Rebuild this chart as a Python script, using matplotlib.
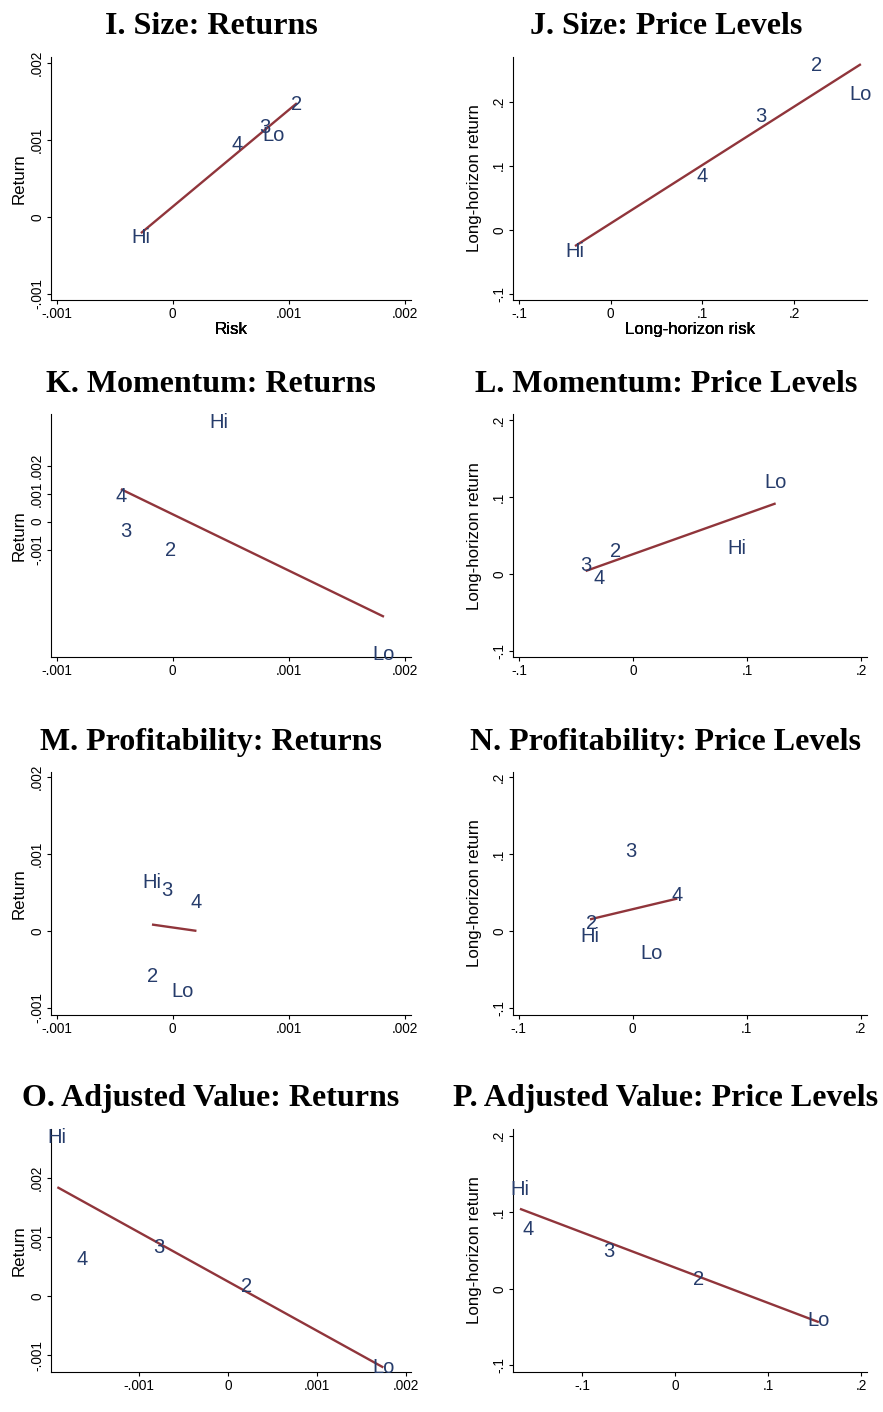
import numpy as np
import matplotlib
matplotlib.use("Agg")
import matplotlib.pyplot as plt
from matplotlib.ticker import FixedLocator, FuncFormatter

# Portfolio groups (quintiles), in the same order for every series
groups = ["Lo", "2", "3", "4", "Hi"]

# Size
size_ret_risk = [0.000867, 0.00107, 0.00079, 0.000554, -0.000273]
size_ret_ret = [0.00108, 0.00148, 0.00118, 0.000961, -0.00025]
size_lvl_risk = [0.273, 0.2249, 0.1638, 0.0993, -0.039]
size_lvl_ret = [0.2146, 0.259, 0.1797, 0.0859, -0.031]

# Momentum
mom_ret_risk = [0.00182, -0.0000172, -0.000403, -0.000446, 0.000402]
mom_ret_ret = [-0.00466, -0.000972, -0.000295, 0.00095, 0.003584]
mom_lvl_risk = [0.1249, -0.0152, -0.0418, -0.0301, 0.0912]
mom_lvl_ret = [0.1215, 0.0313, 0.0130, -0.0035, 0.0355]

# Profitability
prof_ret_risk = [0.0000828, -0.000172, -0.0000517, 0.000205, -0.000178]
prof_ret_ret = [-0.000767, -0.000572, 0.000555, 0.00039, 0.00065]
prof_lvl_risk = [0.0167, -0.036, -0.00175, 0.0391, -0.0375]
prof_lvl_ret = [-0.0269, 0.0121, 0.1062, 0.049, -0.0052]

# Adjusted value
val_ret_risk = [0.00175, 0.000207, -0.000776, -0.001642, -0.001923]
val_ret_ret = [-0.001186, 0.000187, 0.000854, 0.00065, 0.00272]
val_lvl_risk = [0.1548, 0.0258, -0.0706, -0.1577, -0.1667]
val_lvl_ret = [-0.0395, 0.0147, 0.0508, 0.0799, 0.1313]

titles = [
    "I. Size: Returns", "J. Size: Price Levels",
    "K. Momentum: Returns", "L. Momentum: Price Levels",
    "M. Profitability: Returns", "N. Profitability: Price Levels",
    "O. Adjusted Value: Returns", "P. Adjusted Value: Price Levels",
]

ret_ticks = [-0.001, 0.0, 0.001, 0.002]
lvl_ticks = [-0.1, 0.0, 0.1, 0.2]

NAVY = "#263c6b"
MAROON = "#90353b"
SANS = ["Liberation Sans", "DejaVu Sans"]
SERIF = ["Liberation Serif", "DejaVu Serif"]

W, H = 883, 1412
fig = plt.figure(figsize=(W / 100, H / 100), dpi=100)
fig.patch.set_facecolor("white")

col_x = [(50.7, 410.7), (512.7, 867.3)]
row_y = [(57.0, 300.0), (414.0, 657.3), (771.7, 1014.7), (1129.0, 1372.0)]
title_cx = [211, 666]
title_base = [34.0, 392.3, 749.7, 1106.0]


def stata_fmt(v, _pos=None):
    if abs(v) < 1e-12:
        return "0"
    s = f"{v:g}"
    if s.startswith("0."):
        s = s[1:]
    elif s.startswith("-0."):
        s = "-" + s[2:]
    return s


panels = [
    dict(x=size_ret_risk, y=size_ret_ret, kind="ret",
         xlim=(-0.00105, 0.00205), ylim=(-0.00108, 0.00208)),
    dict(x=size_lvl_risk, y=size_lvl_ret, kind="lvl",
         xlim=(-0.107, 0.280), ylim=(-0.1094, 0.2698)),
    dict(x=mom_ret_risk, y=mom_ret_ret, kind="ret",
         xlim=(-0.00105, 0.00205), ylim=(-0.004826, 0.003833)),
    dict(x=mom_lvl_risk, y=mom_lvl_ret, kind="lvl",
         xlim=(-0.1058, 0.2053), ylim=(-0.1085, 0.2083)),
    dict(x=prof_ret_risk, y=prof_ret_ret, kind="ret",
         xlim=(-0.00105, 0.00205), ylim=(-0.001088, 0.002072)),
    dict(x=prof_lvl_risk, y=prof_lvl_ret, kind="lvl",
         xlim=(-0.1053, 0.2058), ylim=(-0.1088, 0.2072)),
    dict(x=val_ret_risk, y=val_ret_ret, kind="ret",
         xlim=(-0.001998, 0.002058), ylim=(-0.001285, 0.002835)),
    dict(x=val_lvl_risk, y=val_lvl_ret, kind="lvl",
         xlim=(-0.1745, 0.2069), ylim=(-0.1086, 0.2086)),
]

for i, p in enumerate(panels):
    r, c = divmod(i, 2)
    l, rr = col_x[c]
    t, b = row_y[r]
    ax = fig.add_axes([l / W, 1 - b / H, (rr - l) / W, (b - t) / H])

    x = np.asarray(p["x"])
    y = np.asarray(p["y"])

    # linear fit across the observed range of risk
    slope, intercept = np.polyfit(x, y, 1)
    xs = np.array([x.min(), x.max()])
    ax.plot(xs, intercept + slope * xs, color=MAROON, lw=1.7,
            solid_capstyle="butt", zorder=2)

    for g, xv, yv in zip(groups, x, y):
        ax.annotate(g, (xv, yv), xytext=(0, -5.2), textcoords="offset points",
                    ha="center", va="baseline", fontsize=14.5,
                    family=SANS, color=NAVY, zorder=3, annotation_clip=False)

    ax.set_xlim(*p["xlim"])
    ax.set_ylim(*p["ylim"])
    ticks = ret_ticks if p["kind"] == "ret" else lvl_ticks
    ax.xaxis.set_major_locator(FixedLocator(ticks))
    ax.yaxis.set_major_locator(FixedLocator(ticks))
    ax.xaxis.set_major_formatter(FuncFormatter(stata_fmt))
    ax.yaxis.set_major_formatter(FuncFormatter(stata_fmt))

    for side in ("top", "right"):
        ax.spines[side].set_visible(False)
    for side in ("left", "bottom"):
        ax.spines[side].set_linewidth(0.8)
        ax.spines[side].set_color("black")

    ax.tick_params(axis="both", direction="out", length=3.2, width=0.8,
                   color="black", labelsize=9.8)
    ax.tick_params(axis="x", pad=1.8)
    ax.tick_params(axis="y", pad=1.6)
    for lab in ax.get_yticklabels():
        lab.set_rotation(90)
        lab.set_va("center")
        lab.set_family(SANS)
    for lab in ax.get_xticklabels():
        lab.set_family(SANS)

    if p["kind"] == "ret":
        xl, yl = "Risk", "Return"
        ylab_x = (19.0 - l) / (rr - l)
    else:
        xl, yl = "Long-horizon risk", "Long-horizon return"
        ylab_x = (475.0 - l) / (rr - l)
    ax.set_xlabel(xl, fontsize=12.2, family=SANS)
    ax.set_ylabel(yl, fontsize=12.2, family=SANS)
    ax.xaxis.set_label_coords(0.5, (b - 329.3) / (b - t))
    ax.xaxis.label.set_va("center")
    ax.yaxis.set_label_coords(ylab_x, 0.5)
    ax.yaxis.label.set_va("center")

    fig.text(title_cx[c] / W, 1 - title_base[r] / H, titles[i],
             ha="center", va="baseline", fontsize=23, fontweight="bold",
             family=SERIF)

fig.savefig("out.png", dpi=100, facecolor="white")
